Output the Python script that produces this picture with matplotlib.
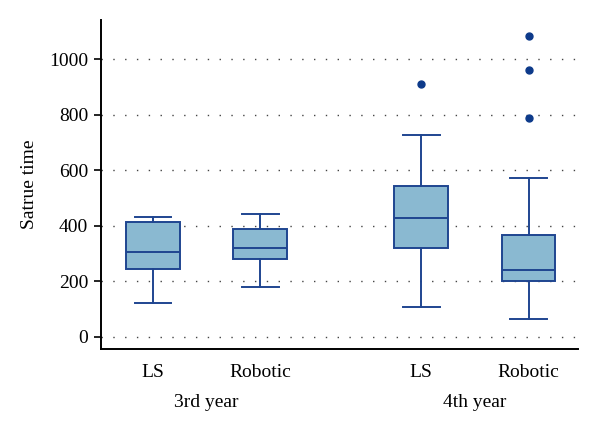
import matplotlib
matplotlib.use("Agg")
import matplotlib.pyplot as plt

groups = ["LS", "Robotic", "LS", "Robotic"]
years = ["3rd year", "4th year"]
whislo = [119, 179, 106, 64]
q1 = [242, 281, 318, 200]
med = [306, 318, 428, 240]
q3 = [413, 387, 544, 365]
whishi = [431, 441, 725, 573]
fliers = [[], [], [910], [786, 962, 1083]]
yticks = [0, 200, 400, 600, 800, 1000]

plt.rcParams['font.family'] = ['Liberation Serif', 'DejaVu Serif']

fig = plt.figure(figsize=(6, 4.29), dpi=100)
ax = fig.add_axes([0.168, 0.1865, 0.795, 0.7665])

positions = [1, 2, 3.5, 4.5]
stats = []
for i in range(4):
    stats.append(dict(whislo=whislo[i], q1=q1[i], med=med[i], q3=q3[i],
                      whishi=whishi[i], fliers=fliers[i], label=groups[i]))

edge = "#1f4590"
fill = "#8ab9d1"
ax.bxp(stats, positions=positions, widths=0.5, patch_artist=True,
       showfliers=True,
       boxprops=dict(facecolor=fill, edgecolor=edge, linewidth=1.4),
       medianprops=dict(color=edge, linewidth=1.4),
       whiskerprops=dict(color=edge, linewidth=1.4),
       capprops=dict(color=edge, linewidth=1.4),
       capwidths=0.34,
       flierprops=dict(marker='o', markerfacecolor='#0d3a8a',
                       markeredgecolor='#0d3a8a', markersize=5))

for y in yticks:
    ax.axhline(y, color='#444444', linewidth=1.0, linestyle=(0, (1, 7.5)),
               zorder=0)

ax.set_xlim(0.514, 4.958)
ax.set_ylim(-45, 1140)
ax.set_yticks(yticks)
ax.set_yticklabels([str(v) for v in yticks], fontsize=14)
ax.tick_params(axis='y', direction='out', length=5, width=1.2, pad=4)
ax.set_xticks([])
for s in ['top', 'right']:
    ax.spines[s].set_visible(False)
for s in ['left', 'bottom']:
    ax.spines[s].set_linewidth(1.4)

ax.set_ylabel("Satrue time", fontsize=14, labelpad=8)

for p, g in zip(positions, groups):
    ax.text(p, -0.072, g, transform=ax.get_xaxis_transform(),
            ha='center', va='center', fontsize=14)
year_pos = [(positions[0] + positions[1]) / 2, (positions[2] + positions[3]) / 2]
for p, yname in zip(year_pos, years):
    ax.text(p, -0.162, yname, transform=ax.get_xaxis_transform(),
            ha='center', va='center', fontsize=14)

fig.savefig("out.png", dpi=100)
